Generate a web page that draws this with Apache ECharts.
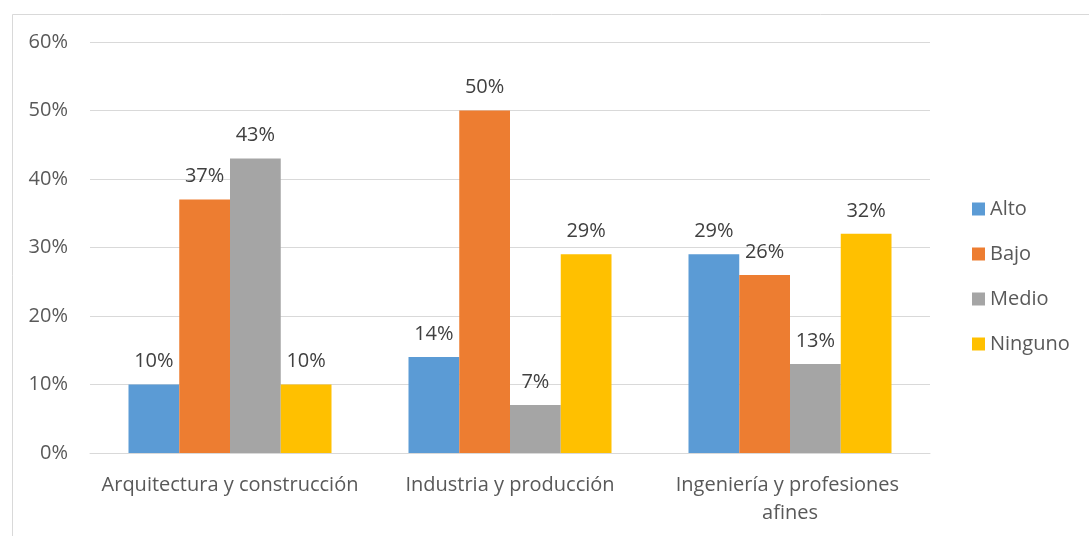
<!DOCTYPE html>
<html>
<head>
<meta charset="utf-8">
<script src="https://cdn.jsdelivr.net/npm/echarts@6/dist/echarts.min.js"></script>
<style>
  html, body { margin: 0; padding: 0; background: #ffffff; }
  #chart { width: 1089px; height: 536px; }
</style>
</head>
<body>
<div id="chart"></div>
<script>
// Categories along the x axis
const categories = ['Arquitectura y construcción', 'Industria y producción', 'Ingeniería y profesiones afines'];
// Percentages per level of each series
const alto = [10, 14, 29];
const bajo = [37, 50, 26];
const medio = [43, 7, 13];
const ninguno = [10, 29, 32];
const seriesNames = ['Alto', 'Bajo', 'Medio', 'Ninguno'];
const seriesColors = ['#5b9bd5', '#ed7d31', '#a5a5a5', '#ffc000'];
const seriesValues = [alto, bajo, medio, ninguno];

const FONT = '"Open Sans", "Liberation Sans", sans-serif';
const FS = 20;

const chart = echarts.init(document.getElementById('chart'), null, { renderer: 'canvas' });

const series = seriesValues.map((vals, i) => ({
  name: seriesNames[i],
  type: 'bar',
  data: vals,
  barGap: '0%',
  barCategoryGap: '27.5%',
  itemStyle: { color: seriesColors[i] },
  label: {
    show: true,
    position: 'top',
    distance: 13,
    formatter: p => p.value + '%',
    color: '#404040',
    fontFamily: FONT,
    fontSize: FS
  }
}));

chart.setOption({
  animation: false,
  backgroundColor: '#ffffff',
  graphic: [{
    type: 'rect',
    left: 10, top: 12,
    shape: { width: 1100, height: 560 },
    style: { fill: 'none', stroke: '#d9d9d9', lineWidth: 1 },
    silent: true
  }],
  grid: { left: 90, right: 159, top: 42, bottom: 83 },
  legend: {
    orient: 'vertical',
    left: 967,
    top: 194,
    itemWidth: 13,
    itemHeight: 13,
    itemGap: 25,
    icon: 'rect',
    textStyle: { color: '#595959', fontFamily: FONT, fontSize: FS },
    data: seriesNames
  },
  xAxis: {
    type: 'category',
    data: categories,
    axisLine: { lineStyle: { color: '#d9d9d9' } },
    axisTick: { show: false },
    axisLabel: {
      color: '#595959',
      fontFamily: FONT,
      fontSize: FS,
      margin: 18,
      width: 272,
      overflow: 'break',
      lineHeight: 28,
      interval: 0
    }
  },
  yAxis: {
    type: 'value',
    min: 0,
    max: 60,
    interval: 10,
    axisLine: { show: false },
    axisTick: { show: false },
    splitLine: { lineStyle: { color: '#d9d9d9', width: 1 } },
    axisLabel: {
      color: '#595959',
      fontFamily: FONT,
      fontSize: FS,
      margin: 22,
      formatter: v => v + '%'
    }
  },
  series: series
});
</script>
</body>
</html>
